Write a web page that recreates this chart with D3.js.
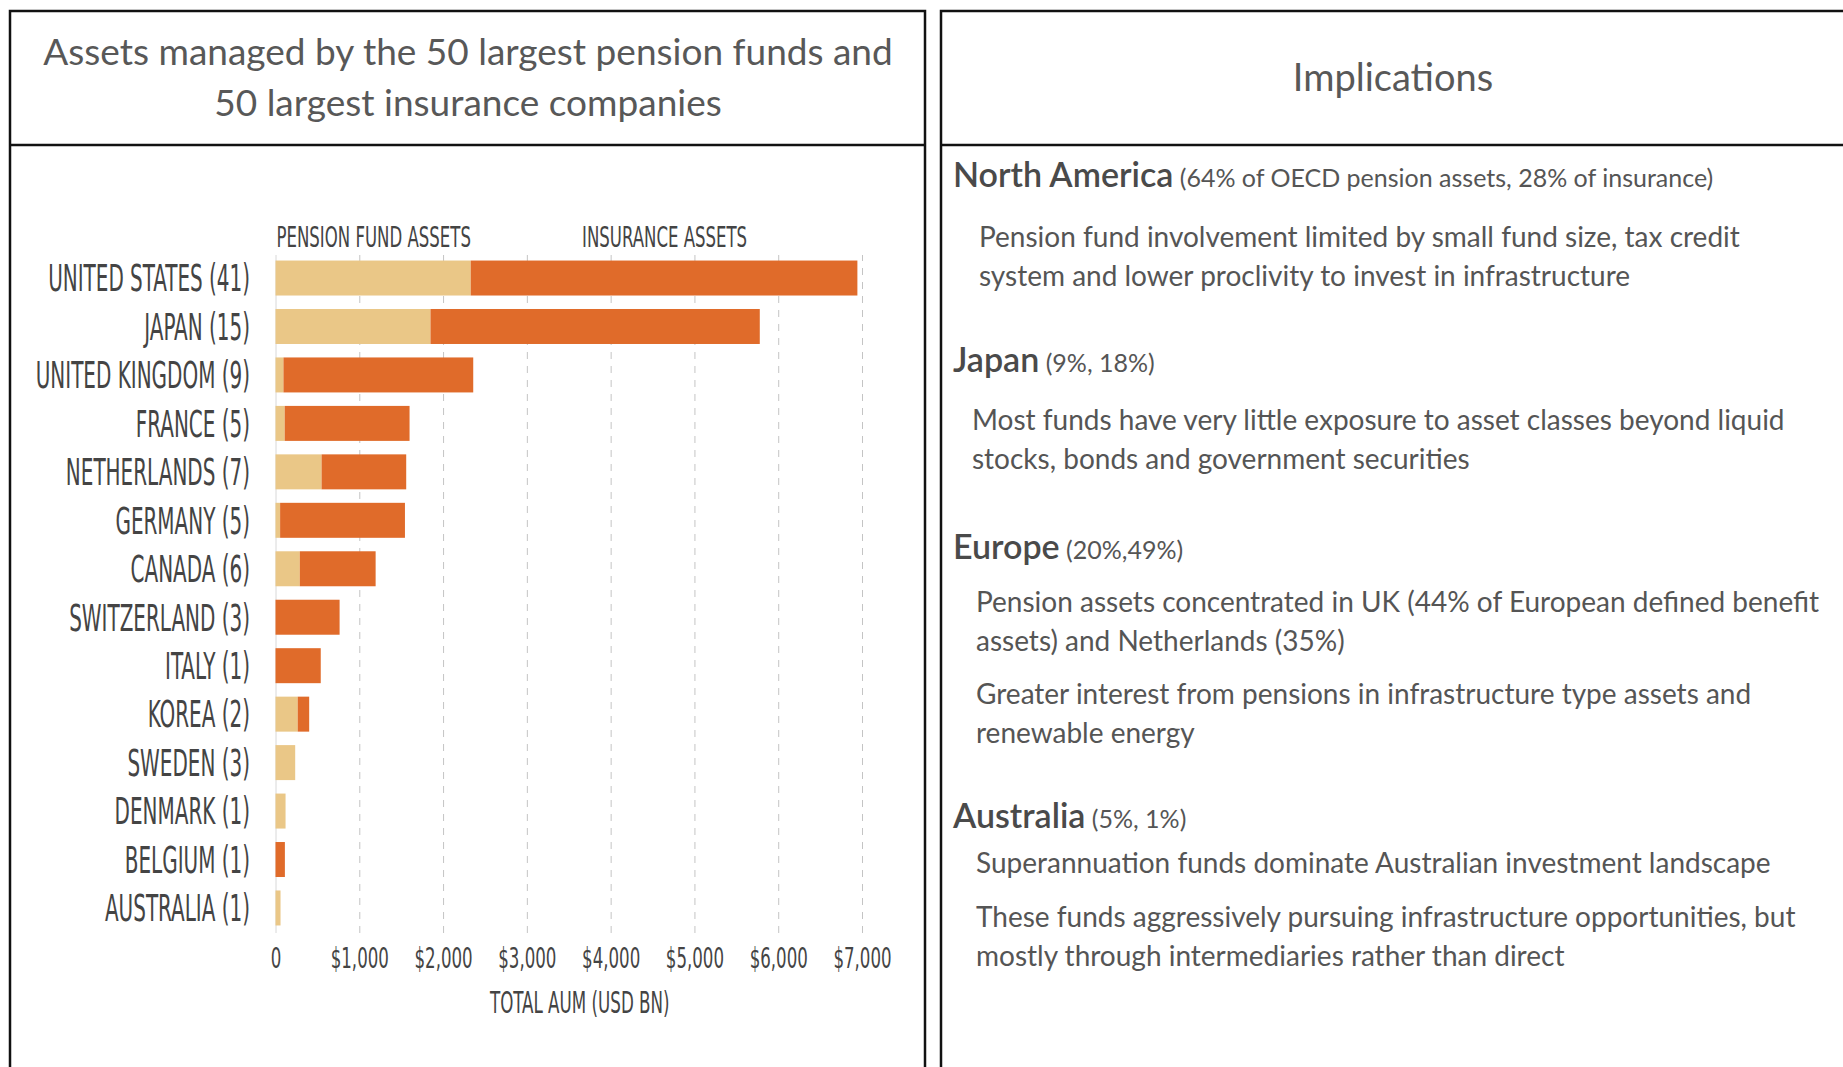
<!DOCTYPE html>
<html>
<head>
<meta charset="utf-8">
<script src="https://cdn.jsdelivr.net/npm/d3@7"></script>
<style>
    body { margin: 0; background: #fff; }
    svg text { font-family: Lato, "Open Sans", sans-serif; }
    svg text.cond { font-family: "Liberation Sans Narrow", "DejaVu Sans Condensed", sans-serif; }
</style>
</head>
<body>
<div id="chart"></div>
<script>
// ---- data (USD bn) ----
const countries = ["UNITED STATES (41)", "JAPAN (15)", "UNITED KINGDOM (9)", "FRANCE (5)",
    "NETHERLANDS (7)", "GERMANY (5)", "CANADA (6)", "SWITZERLAND (3)", "ITALY (1)",
    "KOREA (2)", "SWEDEN (3)", "DENMARK (1)", "BELGIUM (1)", "AUSTRALIA (1)"];
const pension   = [2330, 1850,   95,  110,  550,   55, 290,   0,   0, 265, 235, 120,   0, 60];
const insurance = [4615, 3930, 2265, 1490, 1010, 1490, 905, 765, 540, 137,   0,   0, 112,  0];
const xTicks = [0, 1000, 2000, 3000, 4000, 5000, 6000, 7000];
const seriesNames = ["PENSION FUND ASSETS", "INSURANCE ASSETS"];
const seriesColors = ["#eac787", "#e06b2a"];
const axisTitle = "TOTAL AUM (USD BN)";

const titleLines = ["Assets managed by the 50 largest pension funds and", "50 largest insurance companies"];
const rightTitle = "Implications";

const noteHeads = ["North America", "Japan", "Europe", "Australia"];
const noteSubs = ["(64% of OECD pension assets, 28% of insurance)", "(9%, 18%)", "(20%,49%)", "(5%, 1%)"];
const noteParas = [
    [["Pension fund involvement limited by small fund size, tax credit", "system and lower proclivity to invest in infrastructure"]],
    [["Most funds have very little exposure to asset classes beyond liquid", "stocks, bonds and government securities"]],
    [["Pension assets concentrated in UK (44% of European defined benefit", "assets) and Netherlands (35%)"],
     ["Greater interest from pensions in infrastructure type assets and", "renewable energy"]],
    [["Superannuation funds dominate Australian investment landscape"],
     ["These funds aggressively pursuing infrastructure opportunities, but", "mostly through intermediaries rather than direct"]]
];

// ---- layout ----
const W = 1843, H = 1067;
const headY = [187, 372, 559, 828];                       // heading baselines
const paraY = [[247], [430], [612, 704], [873, 927]];      // first-line baselines of each paragraph
const paraX = [979, 972, 976, 976];
const lineH = 38.5;

const svg = d3.select("#chart").append("svg")
    .attr("width", W)
    .attr("height", H);

// panels
[[10, 915], [941, 1000]].forEach(function (p) {
    svg.append("rect")
        .attr("x", p[0]).attr("y", 11)
        .attr("width", p[1]).attr("height", 1200)
        .attr("fill", "none")
        .attr("stroke", "#111")
        .attr("stroke-width", 2.5);
    svg.append("line")
        .attr("x1", p[0]).attr("x2", p[0] + p[1])
        .attr("y1", 145).attr("y2", 145)
        .attr("stroke", "#111")
        .attr("stroke-width", 2.5);
});

// titles
svg.selectAll("text.title")
    .data(titleLines)
    .enter()
    .append("text")
    .attr("class", "title")
    .attr("x", 468)
    .attr("y", (d, i) => 65 + i * 50.5)
    .attr("text-anchor", "middle")
    .attr("font-size", 37)
    .attr("fill", "#585858")
    .text(d => d);

svg.append("text")
    .attr("x", 1393)
    .attr("y", 91)
    .attr("text-anchor", "middle")
    .attr("font-size", 38)
    .attr("fill", "#585858")
    .text(rightTitle);

// ---- bar chart ----
const x = d3.scaleLinear().domain([0, 7000]).range([275.5, 862]);
const y = d3.scaleBand().domain(countries).range([246, 940]).paddingInner(0.278).paddingOuter(0.3);
const gridTop = 255, gridBottom = 933;

const chart = svg.append("g");

// grid + ticks
const xAxis = chart.append("g")
    .attr("transform", "translate(0," + gridBottom + ")")
    .call(d3.axisBottom(x)
        .tickValues(xTicks)
        .tickSize(-(gridBottom - gridTop))
        .tickFormat(d => d === 0 ? "0" : "$" + d3.format(",")(d)));
xAxis.select(".domain").remove();
xAxis.selectAll(".tick line")
    .attr("stroke", d => d === 0 ? "#d8d8d8" : "#c4c4c4")
    .attr("stroke-dasharray", d => d === 0 ? null : "7,7");
xAxis.selectAll(".tick text")
    .attr("class", "cond")
    .attr("y", 25)
    .attr("dy", "0.35em")
    .attr("font-size", 28)
    .attr("fill", "#444")
    .attr("transform", "scale(0.66,1)");

// stacked bars
const rows = countries.map((c, i) => ({name: c, p: pension[i], ins: insurance[i]}));
const barG = chart.append("g");
barG.selectAll("rect.pension")
    .data(rows)
    .enter()
    .append("rect")
    .attr("class", "pension")
    .attr("x", x(0))
    .attr("y", d => y(d.name))
    .attr("width", d => x(d.p) - x(0))
    .attr("height", y.bandwidth())
    .attr("fill", seriesColors[0]);
barG.selectAll("rect.insurance")
    .data(rows)
    .enter()
    .append("rect")
    .attr("class", "insurance")
    .attr("x", d => x(d.p))
    .attr("y", d => y(d.name))
    .attr("width", d => x(d.p + d.ins) - x(d.p))
    .attr("height", y.bandwidth())
    .attr("fill", seriesColors[1]);

// country labels
chart.selectAll("g.lab")
    .data(rows)
    .enter()
    .append("g")
    .attr("class", "lab")
    .attr("transform", d => "translate(250," + (y(d.name) + y.bandwidth() / 2) + ") scale(0.6,1)")
    .append("text")
    .attr("class", "cond")
    .attr("text-anchor", "end")
    .attr("dy", "0.36em")
    .attr("font-size", 37)
    .attr("fill", "#444")
    .text(d => d.name);

// legend labels
const legendX = [x(0) + 1, 582];
chart.selectAll("g.legend")
    .data(seriesNames)
    .enter()
    .append("g")
    .attr("class", "legend")
    .attr("transform", (d, i) => "translate(" + legendX[i] + ",247) scale(0.635,1)")
    .append("text")
    .attr("class", "cond")
    .attr("font-size", 29)
    .attr("fill", "#444")
    .text(d => d);

// axis title
chart.append("g")
    .attr("transform", "translate(" + ((x(0) + x(7000)) / 2 + 11) + ",1013) scale(0.62,1)")
    .append("text")
    .attr("class", "cond")
    .attr("text-anchor", "middle")
    .attr("font-size", 30)
    .attr("fill", "#444")
    .text(axisTitle);

// ---- implications ----
const notes = svg.append("g");
noteHeads.forEach(function (h, i) {
    const t = notes.append("text")
        .attr("x", 953)
        .attr("y", headY[i])
        .attr("fill", "#4a4a4a");
    t.append("tspan")
        .attr("font-size", 34)
        .attr("font-weight", 600)
        .text(h);
    t.append("tspan")
        .attr("font-size", 25)
        .attr("fill", "#555")
        .text(" " + noteSubs[i]);

    noteParas[i].forEach(function (lines, j) {
        notes.selectAll(null)
            .data(lines)
            .enter()
            .append("text")
            .attr("x", paraX[i])
            .attr("y", (d, k) => paraY[i][j] + k * lineH)
            .attr("font-size", 28)
            .attr("fill", "#555")
            .text(d => d);
    });
});
</script>
</body>
</html>
